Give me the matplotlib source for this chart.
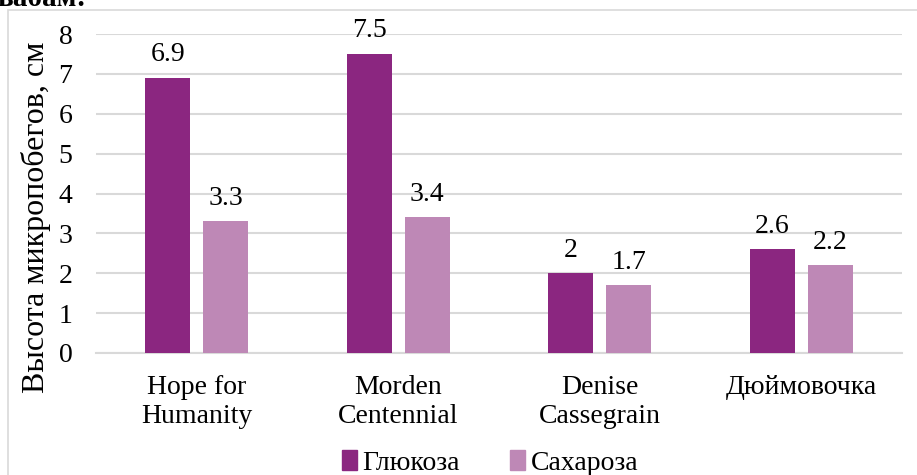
import matplotlib.pyplot as plt
import matplotlib.patches as mpatches
import numpy as np

plt.rcParams["font.family"] = ["Liberation Serif", "DejaVu Serif"]

categories = ["Hope for\nHumanity", "Morden\nCentennial", "Denise\nCassegrain", "Дюймовочка"]
glucose = [6.9, 7.5, 2.0, 2.6]
sucrose = [3.3, 3.4, 1.7, 2.2]
glucose_labels = ["6.9", "7.5", "2", "2.6"]
sucrose_labels = ["3.3", "3.4", "1.7", "2.2"]
series_names = ["Глюкоза", "Сахароза"]
yticks = [0, 1, 2, 3, 4, 5, 6, 7, 8]

c1 = "#8B2680"
c2 = "#BE88B6"
grid_c = "#D9D9D9"
fs = 20

fig = plt.figure(figsize=(9.17, 4.75), dpi=100)
ax = fig.add_axes([96 / 917, 1 - 353 / 475, 806 / 917, 319 / 475])

x = np.arange(len(categories))
w = 0.223
off = 0.143
b1 = ax.bar(x - off, glucose, w, color=c1, zorder=3)
b2 = ax.bar(x + off, sucrose, w, color=c2, zorder=3)

for bars, labels in [(b1, glucose_labels), (b2, sucrose_labels)]:
    for b, lab in zip(bars, labels):
        ax.annotate(lab, (b.get_x() + b.get_width() / 2, b.get_height()),
                    xytext=(0, 12), textcoords="offset points",
                    ha="center", va="baseline", fontsize=fs)

ax.set_xlim(-0.5, 3.5)
ax.set_ylim(0, 8)
ax.set_yticks(yticks)
ax.set_xticks(x)
ax.set_xticklabels(categories, fontsize=fs, linespacing=1.2)
ax.tick_params(axis="y", length=0, pad=17, labelsize=fs)
ax.tick_params(axis="x", length=0, pad=16)
ax.grid(axis="y", color=grid_c, linewidth=1.5, zorder=0)
for s in ["top", "right", "left"]:
    ax.spines[s].set_visible(False)
ax.spines["bottom"].set_color(grid_c)
ax.spines["bottom"].set_linewidth(1.5)

fig.text(36 / 917, 1 - 217 / 475, "Высота микропобегов, см", rotation=90,
         ha="center", va="center", fontsize=23)

handles = [mpatches.Patch(color=c1), mpatches.Patch(color=c2)]
fig.legend(handles, series_names, loc="center", bbox_to_anchor=(490 / 917, 1 - 463 / 475),
           ncol=2, frameon=False, fontsize=fs, handlelength=0.55, handleheight=0.75,
           handletextpad=0.2, columnspacing=1.8)

# chart frame
fig.patches.append(mpatches.Rectangle((8 / 917, -0.1), 1.1, 1 - 10 / 475 + 0.1,
                                      transform=fig.transFigure, fill=False,
                                      edgecolor=grid_c, linewidth=1.2))

# cut-off document text above the chart
fig.text(-0.003, 1 - 6 / 475, "вабам:", fontsize=21, fontweight="bold", va="baseline")

fig.savefig("out.png", dpi=100)
